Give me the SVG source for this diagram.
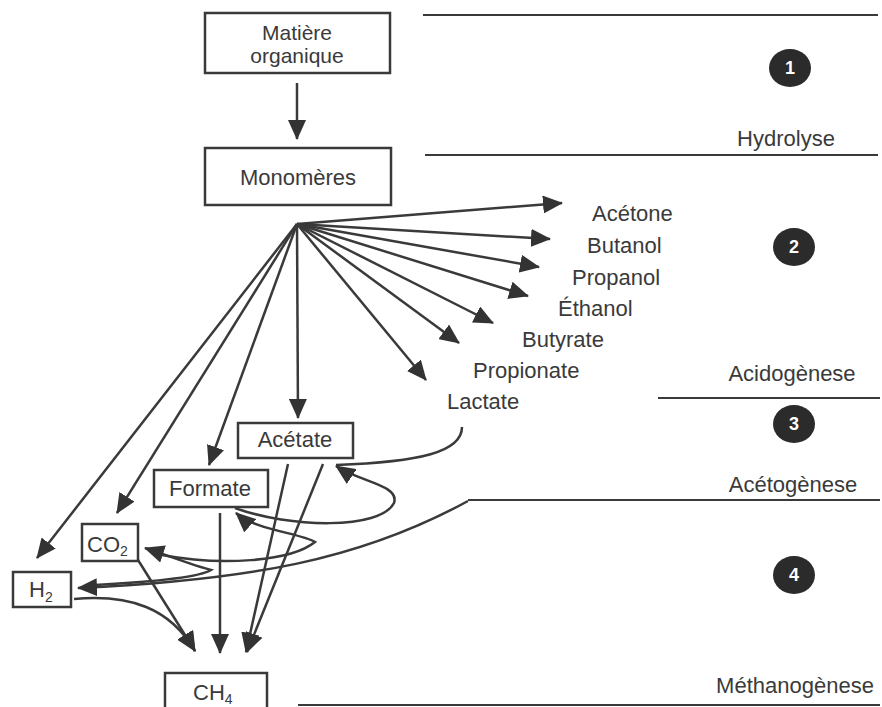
<svg xmlns="http://www.w3.org/2000/svg" width="882" height="707" viewBox="0 0 882 707">
<defs>
<style>
.box{fill:#fff;stroke:#3a3a3a;stroke-width:2.5}
.t{font-family:"Liberation Sans",Arial,sans-serif;font-size:22px;fill:#3a3a3a}
.t2{font-family:"Liberation Sans",Arial,sans-serif;font-size:21px;fill:#3a3a3a}
.sub{font-size:14px}
.c{stroke:#3a3a3a;stroke-width:2.5;fill:none}
.ar{marker-end:url(#ah)}
.rule{stroke:#3a3a3a;stroke-width:2.2}
.num{font-family:"Liberation Sans",Arial,sans-serif;font-size:18px;font-weight:bold;fill:#fff;text-anchor:middle}
.dot{fill:#2b2b2b}
</style>
<marker id="ah" viewBox="0 0 20 18" refX="19" refY="9" markerWidth="20" markerHeight="18" markerUnits="userSpaceOnUse" orient="auto">
<path d="M0,0 L20,9 L0,18 z" fill="#333"/>
</marker>
</defs>
<rect width="882" height="707" fill="#fff"/>

<g id="rules">
<line class="rule" x1="423" y1="15" x2="878" y2="15"/>
<line class="rule" x1="425" y1="155" x2="878" y2="155"/>
<line class="rule" x1="658" y1="398" x2="880" y2="398"/>
<line class="rule" x1="468" y1="500" x2="880" y2="500"/>
<line class="rule" x1="298" y1="705" x2="880" y2="705"/>
</g>

<g id="stages">
<g id="stage1"><ellipse class="dot" cx="790" cy="68" rx="21" ry="19"/><text class="num" x="790" y="74">1</text></g>
<g id="stage2"><ellipse class="dot" cx="794" cy="247" rx="21" ry="19"/><text class="num" x="794" y="253">2</text></g>
<g id="stage3"><ellipse class="dot" cx="794" cy="424" rx="21" ry="19"/><text class="num" x="794" y="430">3</text></g>
<g id="stage4"><ellipse class="dot" cx="794" cy="575" rx="21" ry="19"/><text class="num" x="794" y="581">4</text></g>
<text class="t" x="786" y="146" text-anchor="middle">Hydrolyse</text>
<text class="t" x="792" y="381" text-anchor="middle">Acidogènese</text>
<text class="t" x="793" y="492" text-anchor="middle">Acétogènese</text>
<text class="t" x="795" y="693" text-anchor="middle">Méthanogènese</text>
</g>

<g id="connectors">
<line class="c ar" x1="297" y1="83" x2="297" y2="139"/>
<line class="c ar" x1="297" y1="224" x2="562" y2="203"/>
<line class="c ar" x1="297" y1="224" x2="550" y2="239"/>
<line class="c ar" x1="297" y1="224" x2="539" y2="267"/>
<line class="c ar" x1="297" y1="224" x2="528" y2="296"/>
<line class="c ar" x1="297" y1="224" x2="493" y2="323"/>
<line class="c ar" x1="297" y1="224" x2="459" y2="343"/>
<line class="c ar" x1="297" y1="224" x2="426" y2="380"/>
<line class="c ar" x1="297" y1="224" x2="298" y2="418"/>
<line class="c ar" x1="297" y1="224" x2="209" y2="465"/>
<line class="c ar" x1="297" y1="224" x2="117" y2="513"/>
<line class="c ar" x1="297" y1="224" x2="37" y2="558"/>
<path class="c" d="M462,427 C462,452 420,462 336,465"/>
<path class="c ar" d="M235,508 C290,528 380,530 394,503 C400,485 360,482 336,466"/>
<path class="c ar" d="M162,555 C220,566 290,562 315,542 C300,533 255,530 236,513"/>
<path class="c ar" d="M95,585 C150,582 200,577 211,570 C195,566 172,557 145,548"/>
<path class="c ar" d="M468,501 C360,560 250,580 78,588"/>
<path class="c ar" d="M74,599 C130,594 170,608 195,651"/>
<line class="c ar" x1="138" y1="560" x2="195" y2="651"/>
<line class="c ar" x1="220" y1="513" x2="220" y2="653"/>
<line class="c ar" x1="288" y1="464" x2="246" y2="652"/>
<line class="c ar" x1="323" y1="464" x2="247" y2="652"/>
</g>

<g id="products">
<text class="t" x="592" y="221">Acétone</text>
<text class="t" x="587" y="253">Butanol</text>
<text class="t" x="572" y="285">Propanol</text>
<text class="t" x="558" y="316">Éthanol</text>
<text class="t" x="522" y="347">Butyrate</text>
<text class="t" x="473" y="378">Propionate</text>
<text class="t" x="447" y="409">Lactate</text>
</g>

<g id="matiere"><rect class="box" x="205" y="13" width="185" height="60"/>
<text class="t2" x="297" y="40" text-anchor="middle">Matière</text>
<text class="t2" x="297" y="63" text-anchor="middle">organique</text></g>
<g id="monomeres"><rect class="box" x="205" y="148" width="186" height="57"/>
<text class="t" x="298" y="185" text-anchor="middle">Monomères</text></g>
<g id="acetate"><rect class="box" x="238" y="423" width="115" height="35"/>
<text class="t" x="295" y="447" text-anchor="middle">Acétate</text></g>
<g id="formate"><rect class="box" x="154" y="470" width="114" height="37"/>
<text class="t" x="210" y="496" text-anchor="middle">Formate</text></g>
<g id="co2"><rect class="box" x="82" y="524" width="56" height="37"/>
<text class="t" x="87" y="552">CO<tspan class="sub" dy="4">2</tspan></text></g>
<g id="h2"><rect class="box" x="13" y="572" width="58" height="35"/>
<text class="t" x="29" y="597">H<tspan class="sub" dy="5">2</tspan></text></g>
<g id="ch4"><rect class="box" x="165" y="673" width="102" height="40"/>
<text class="t" x="193" y="700">CH<tspan class="sub" dy="4">4</tspan></text></g>
</svg>
